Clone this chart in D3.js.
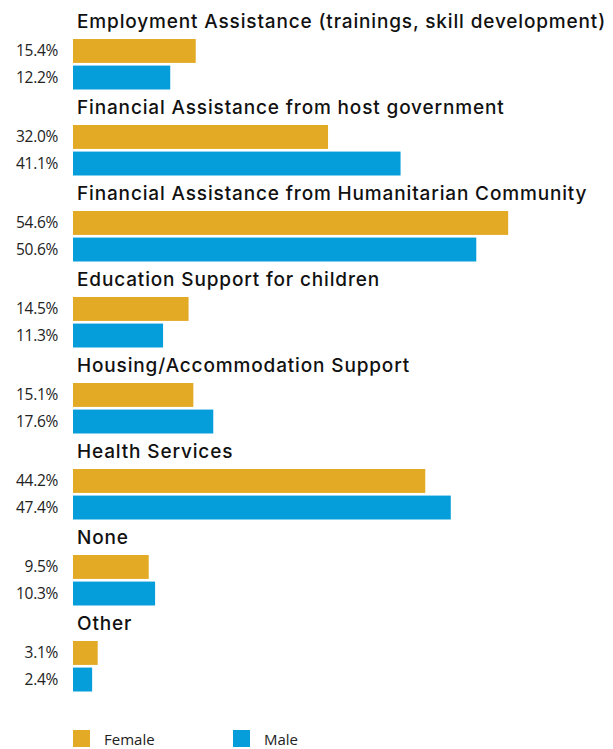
<!DOCTYPE html>
<html>
<head>
<meta charset="utf-8">
<script src="https://cdn.jsdelivr.net/npm/d3@7"></script>
<style>
  html, body { margin: 0; padding: 0; background: #fff; }
  svg { display: block; }
</style>
</head>
<body>
<svg id="chart" width="613" height="749"></svg>
<script>
// Support received, by gender (share of respondents, %)
const categories = [
  "Employment Assistance (trainings, skill development)",
  "Financial Assistance from host government",
  "Financial Assistance from Humanitarian Community",
  "Education Support for children",
  "Housing/Accommodation Support",
  "Health Services",
  "None",
  "Other"
];
const series = ["Female", "Male"];
const femaleValues = [15.4, 32.0, 54.6, 14.5, 15.1, 44.2, 9.5, 3.1];
const maleValues   = [12.2, 41.1, 50.6, 11.3, 17.6, 47.4, 10.3, 2.4];

const colors = { Female: "#E3AA26", Male: "#069DDB" };

const svg = d3.select("#chart");

const rows = categories.map((c, i) => ({
  category: c,
  values: [
    { key: "Female", value: femaleValues[i] },
    { key: "Male", value: maleValues[i] }
  ]
}));

// Each category gets one band: title line followed by the two bars
const yGroup = d3.scaleBand()
  .domain(categories)
  .range([8, 8 + 86.0 * categories.length])
  .paddingInner(0);

const yInner = d3.scaleBand()
  .domain(series)
  .range([31, 81.5])
  .paddingInner(0.1);

const x = d3.scaleLinear()
  .domain([0, 60])
  .range([73, 73 + 60 * 7.97]);

const groups = svg.selectAll("g.group")
  .data(rows)
  .join("g")
  .attr("class", "group")
  .attr("transform", d => `translate(0,${yGroup(d.category)})`);

groups.append("text")
  .attr("x", 77)
  .attr("y", 20)
  .attr("font-family", "Inter, 'Open Sans', sans-serif")
  .attr("font-weight", 500)
  .attr("font-size", 19)
  .attr("letter-spacing", 0.85)
  .attr("fill", "#111")
  .text(d => d.category);

groups.selectAll("rect")
  .data(d => d.values)
  .join("rect")
  .attr("x", x(0))
  .attr("y", d => yInner(d.key))
  .attr("width", d => x(d.value) - x(0))
  .attr("height", yInner.bandwidth())
  .attr("fill", d => colors[d.key]);

groups.selectAll("text.val")
  .data(d => d.values)
  .join("text")
  .attr("class", "val")
  .attr("x", 58)
  .attr("y", d => yInner(d.key) + yInner.bandwidth() / 2 + 5.5)
  .attr("text-anchor", "end")
  .attr("font-family", "'Open Sans', sans-serif")
  .attr("font-size", 15.5)
  .attr("letter-spacing", -0.3)
  .attr("fill", "#222")
  .text(d => d.value.toFixed(1) + "%");

// Legend
const legendX = d3.scaleOrdinal().domain(series).range([73, 233]);
const legend = svg.selectAll("g.legend")
  .data(series)
  .join("g")
  .attr("class", "legend")
  .attr("transform", d => `translate(${legendX(d)},730)`);

legend.append("rect")
  .attr("width", 17)
  .attr("height", 17)
  .attr("fill", d => colors[d]);

legend.append("text")
  .attr("x", 31)
  .attr("y", 14.5)
  .attr("font-family", "'Open Sans', sans-serif")
  .attr("font-size", 15)
  .attr("fill", "#222")
  .text(d => d);
</script>
</body>
</html>
